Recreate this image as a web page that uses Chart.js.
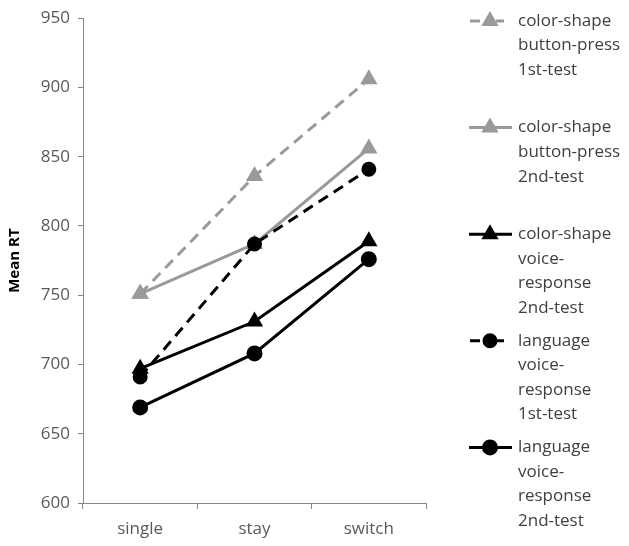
<!DOCTYPE html>
<html>
<head>
<meta charset="utf-8">
<script src="https://cdn.jsdelivr.net/npm/chart.js@4.4.1/dist/chart.umd.min.js"></script>
<style>
  html, body { margin: 0; padding: 0; background: #fff; }
  #wrap { width: 629px; height: 546px; position: relative; }
</style>
</head>
<body>
<div id="wrap"><canvas id="grafico"></canvas></div>
<script>
// datos
const categorias = ["single", "stay", "switch"];
const csBoton1 = [751, 836, 906];
const csBoton2 = [751, 787, 856];
const csVoz2 = [697, 731, 789];
const lengVoz1 = [691, 787, 841];
const lengVoz2 = [669, 708, 776];
const ticksY = [600, 650, 700, 750, 800, 850, 900, 950];

const leyendas = [
  ["color-shape", "button-press", "1st-test"],
  ["color-shape", "button-press", "2nd-test"],
  ["color-shape", "voice-", "response", "2nd-test"],
  ["language", "voice-", "response", "1st-test"],
  ["language", "voice-", "response", "2nd-test"]
];

const GRIS = "#9a9a9a";
const NEGRO = "#000000";
const FUENTE = "'Open Sans', 'DejaVu Sans', sans-serif";

function serie(label, data, color, dash, forma, radio, orden) {
  return {
    label, data,
    borderColor: color,
    backgroundColor: color,
    pointBackgroundColor: color,
    pointBorderColor: color,
    borderWidth: 3,
    borderDash: dash,
    pointStyle: forma,
    pointRadius: radio,
    pointHoverRadius: radio,
    tension: 0,
    order: orden
  };
}

const datasets = [
  serie("color-shape button-press 1st-test", csBoton1, GRIS, [11, 7], "triangle", 7, 5),
  serie("color-shape button-press 2nd-test", csBoton2, GRIS, [], "triangle", 7, 4),
  serie("color-shape voice-response 2nd-test", csVoz2, NEGRO, [], "triangle", 7, 3),
  serie("language voice-response 1st-test", lengVoz1, NEGRO, [11, 7], "circle", 6, 2),
  serie("language voice-response 2nd-test", lengVoz2, NEGRO, [], "circle", 6.5, 1)
];

// leyenda a la derecha, con etiquetas de varias lineas
const leyendaDerecha = {
  id: "leyendaDerecha",
  afterDraw(chart) {
    const ctx = chart.ctx;
    const xt = 518, xm = 490;
    ctx.save();
    chart.data.datasets.forEach((ds, i) => {
      const y = 21 + i * 106.6;
      ctx.strokeStyle = ds.borderColor;
      ctx.lineWidth = ds.borderWidth;
      ctx.beginPath();
      if (ds.borderDash.length) {
        // guion corto, marcador, guion corto
        ctx.moveTo(470, y); ctx.lineTo(480, y);
        ctx.moveTo(496, y); ctx.lineTo(504, y);
      } else {
        ctx.moveTo(469, y); ctx.lineTo(512, y);
      }
      ctx.stroke();
      Chart.helpers.drawPoint(ctx, {
        pointStyle: ds.pointStyle,
        radius: ds.pointRadius,
        rotation: 0,
        borderWidth: 1
      }, xm, y);
      ctx.fillStyle = ds.pointBackgroundColor;
      ctx.fill();
      ctx.fillStyle = "#404040";
      ctx.font = "17px " + FUENTE;
      ctx.textBaseline = "middle";
      ctx.textAlign = "left";
      leyendas[i].forEach((linea, j) => {
        ctx.fillText(linea, xt, y + j * 24.6);
      });
    });
    ctx.restore();
  }
};

new Chart(document.getElementById("grafico"), {
  type: "line",
  data: { labels: categorias, datasets },
  plugins: [leyendaDerecha],
  options: {
    responsive: true,
    maintainAspectRatio: false,
    animation: false,
    layout: { padding: { top: 14, right: 203, bottom: 0, left: 0 } },
    plugins: {
      legend: { display: false },
      tooltip: { enabled: false }
    },
    scales: {
      x: {
        offset: true,
        afterFit: s => { s.height = 43; },
        grid: {
          display: true,
          drawOnChartArea: false,
          offset: true,
          tickLength: 6,
          color: "#868686"
        },
        border: { color: "#868686", width: 1 },
        ticks: {
          color: "#595959",
          padding: 10,
          font: { family: FUENTE, size: 17 }
        }
      },
      y: {
        min: 600,
        max: 950,
        afterFit: s => { s.width = 83; },
        afterBuildTicks: s => { s.ticks = ticksY.map(v => ({ value: v })); },
        grid: {
          display: true,
          drawOnChartArea: false,
          tickLength: 5,
          color: "#868686"
        },
        border: { color: "#868686", width: 1 },
        ticks: {
          color: "#595959",
          padding: 8,
          font: { family: FUENTE, size: 17 }
        },
        title: {
          display: true,
          text: "Mean RT",
          color: "#000",
          padding: { top: 6, bottom: 0 },
          font: { family: FUENTE, size: 15, weight: "bold" }
        }
      }
    }
  }
});
</script>
</body>
</html>
